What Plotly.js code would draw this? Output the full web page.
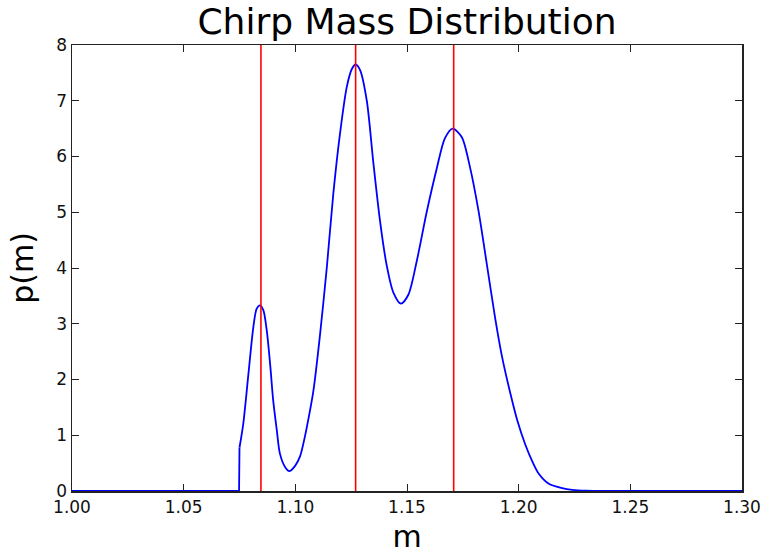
<!DOCTYPE html>
<html>
<head>
<meta charset="utf-8">
<script src="https://cdn.plot.ly/plotly-3.0.1.min.js"></script>
<style>html,body{margin:0;padding:0;background:#fff;}#chart{width:763px;height:554px;}</style>
</head>
<body>
<div id="chart"></div>
<script>
const massX = [1.000, 1.0748, 1.0750, 1.0767, 1.0790, 1.0812, 1.0827, 1.0842, 1.0857, 1.0872, 1.0887, 1.0901, 1.0917, 1.0931, 1.0954, 1.0973, 1.0999, 1.1021, 1.1043, 1.1066, 1.1081, 1.1111, 1.1141, 1.1170, 1.1200, 1.1230, 1.1253, 1.1270, 1.1290, 1.1320, 1.1349, 1.1379, 1.1409, 1.1439, 1.1473, 1.1506, 1.1544, 1.1588, 1.1633, 1.1670, 1.1705, 1.1745, 1.1782, 1.1820, 1.1857, 1.1894, 1.1925, 1.1961, 1.1995, 1.2030, 1.2060, 1.2090, 1.2135, 1.2195, 1.2240, 1.2300, 1.2400, 1.300];
const density = [0, 0, 0.78, 1.21, 2.10, 2.94, 3.27, 3.33, 3.24, 2.88, 2.28, 1.62, 1.09, 0.67, 0.43, 0.355, 0.45, 0.62, 0.98, 1.45, 1.80, 2.82, 4.01, 5.33, 6.41, 7.24, 7.57, 7.65, 7.55, 7.00, 5.90, 4.85, 4.05, 3.56, 3.36, 3.52, 4.13, 5.00, 5.78, 6.33, 6.50, 6.35, 5.81, 5.03, 4.08, 3.12, 2.42, 1.78, 1.25, 0.83, 0.54, 0.31, 0.13, 0.05, 0.02, 0.005, 0, 0];
const peakMarks = [1.0846, 1.1270, 1.1709];
const xTicks = [1.00, 1.05, 1.10, 1.15, 1.20, 1.25, 1.30];
const yTicks = [0, 1, 2, 3, 4, 5, 6, 7, 8];

// flat part + vertical jump drawn straight, the smooth body as a spline
const jumpIdx = 2;
const traces = [{
  x: massX.slice(0, jumpIdx + 1), y: density.slice(0, jumpIdx + 1), type: 'scatter', mode: 'lines',
  line: {color: '#0000ff', width: 1.8}, hoverinfo: 'skip', showlegend: false
}, {
  x: massX.slice(jumpIdx), y: density.slice(jumpIdx), type: 'scatter', mode: 'lines',
  line: {color: '#0000ff', width: 1.8, shape: 'spline', smoothing: 0.8},
  hoverinfo: 'skip', showlegend: false
}];
peakMarks.forEach(function (v) {
  traces.push({x: [v, v], y: [0, 8], type: 'scatter', mode: 'lines',
    line: {color: '#ff0000', width: 1.6}, showlegend: false, hoverinfo: 'skip'});
});

const FAM = 'DejaVu Sans, sans-serif';
const layout = {
  width: 763, height: 554,
  margin: {l: 72, r: 21, t: 45, b: 63},
  paper_bgcolor: '#fff', plot_bgcolor: '#fff',
  font: {family: FAM, color: '#000'},
  title: {text: 'Chirp Mass Distribution', font: {family: FAM, size: 36, color: '#000'},
          x: 0.5, xref: 'paper', y: 0.962, yref: 'container', yanchor: 'middle'},
  xaxis: {
    range: [1.0, 1.3], tickvals: xTicks, ticktext: xTicks.map(function (v) { return v.toFixed(2); }),
    ticks: 'inside', ticklen: 7, tickcolor: '#222', tickwidth: 1,
    showline: true, linecolor: '#222', linewidth: 1.5, mirror: 'ticks',
    showgrid: false, zeroline: false,
    tickfont: {family: FAM, size: 17, color: '#111'},
    title: {text: 'm', font: {family: FAM, size: 30, color: '#000'}, standoff: 11}
  },
  yaxis: {
    range: [0, 8], tickvals: yTicks,
    ticks: 'inside', ticklen: 7, tickcolor: '#222', tickwidth: 1,
    showline: true, linecolor: '#222', linewidth: 1.5, mirror: 'ticks',
    showgrid: false, zeroline: false,
    tickfont: {family: FAM, size: 17, color: '#111'},
    title: {text: 'p(m)', font: {family: FAM, size: 30, color: '#000'}, standoff: 14}
  }
};
Plotly.newPlot('chart', traces, layout, {staticPlot: true, displayModeBar: false});
</script>
</body>
</html>
